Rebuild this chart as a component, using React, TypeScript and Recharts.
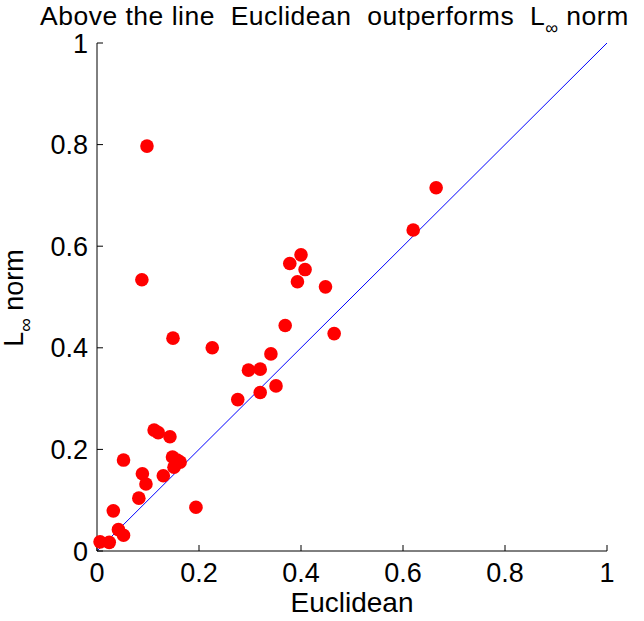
import { FC } from 'react';
import { ScatterChart, Scatter, XAxis, YAxis, ReferenceLine, Customized } from 'recharts';

// values
const euclidean = [
  0.006, 0.024, 0.032, 0.042, 0.052, 0.052, 0.082, 0.089, 0.096, 0.088, 0.098, 0.112, 0.12,
  0.13, 0.143, 0.148, 0.157, 0.163, 0.151, 0.149, 0.194, 0.226, 0.276, 0.297, 0.32, 0.32,
  0.341, 0.351, 0.369, 0.378, 0.4, 0.393, 0.408, 0.448, 0.465, 0.62, 0.665,
];
const lInfNorm = [
  0.018, 0.017, 0.079, 0.042, 0.031, 0.179, 0.104, 0.152, 0.132, 0.534, 0.797, 0.238, 0.233,
  0.148, 0.225, 0.185, 0.179, 0.175, 0.165, 0.419, 0.086, 0.4, 0.298, 0.356, 0.358, 0.312,
  0.388, 0.325, 0.444, 0.566, 0.583, 0.53, 0.554, 0.52, 0.428, 0.632, 0.715,
];
const axisTicks = [0, 0.2, 0.4, 0.6, 0.8, 1];
const diagonal = [
  { x: 0, y: 0 },
  { x: 1, y: 1 },
];

const points = euclidean.map((x, i) => ({ x, y: lInfNorm[i] }));

const font = 'Liberation Sans, Arial, sans-serif';

const Dot = (props: any) => <circle cx={props.cx} cy={props.cy} r={6.8} fill="#ff0000" />;

const Labels = () => (
  <g fontFamily={font} fill="#000">
    <text x={40} y={25} fontSize={26.5} letterSpacing={0.5} style={{ whiteSpace: 'pre' }}>
      {'Above the line  Euclidean  outperforms  L'}
      <tspan dy={9} fontSize={18}>∞</tspan>
      <tspan dy={-9}>{' norm'}</tspan>
    </text>
    <text x={352} y={612} fontSize={28} textAnchor="middle">
      Euclidean
    </text>
    <text x={23} y={298} fontSize={27} textAnchor="middle" transform="rotate(-90, 23, 298)">
      L<tspan dy={9} fontSize={19}>∞</tspan>
      <tspan dy={-9}>{' norm'}</tspan>
    </text>
  </g>
);

const App: FC = () => {
  return (
    <div style={{ position: 'absolute', left: 0, top: 0, background: '#fff' }}>
      <ScatterChart width={644} height={621} margin={{ top: 43, right: 37, bottom: 20, left: 37 }}>
        <XAxis
          type="number"
          dataKey="x"
          domain={[0, 1]}
          ticks={axisTicks}
          interval={0}
          height={50}
          stroke="#000"
          tickSize={-6}
          tickMargin={18}
          tick={{ fill: '#000', fontSize: 27, fontFamily: font }}
        />
        <YAxis
          type="number"
          dataKey="y"
          domain={[0, 1]}
          ticks={axisTicks}
          interval={0}
          width={60}
          stroke="#000"
          tickSize={-6}
          tickMargin={15}
          tick={{ fill: '#000', fontSize: 27, fontFamily: font }}
        />
        <ReferenceLine segment={diagonal} stroke="#0000ff" strokeWidth={1} ifOverflow="visible" />
        <Scatter data={points} shape={Dot} isAnimationActive={false} />
        <Customized component={<Labels />} />
      </ScatterChart>
    </div>
  );
};

export default App;
